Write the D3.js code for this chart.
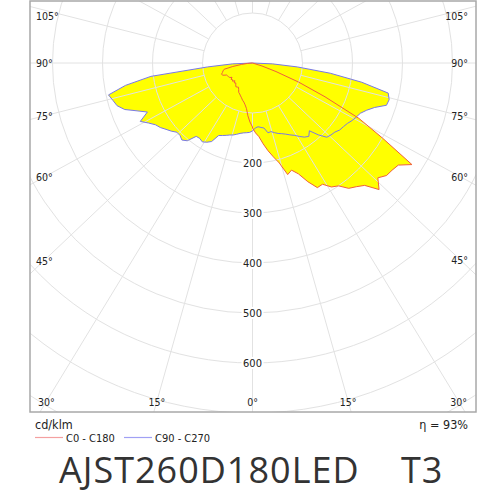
<!DOCTYPE html>
<html><head><meta charset="utf-8">
<script src="https://cdn.jsdelivr.net/npm/d3@7"></script>
<style>body{margin:0;background:#fff}svg{display:block}</style>
</head><body><svg id="c" width="500" height="500"></svg>
<script>
// gamma angles (deg from nadir)
const gammas = [0,2.5,5,7.5,10,12.5,15,17.5,20,22.5,25,27.5,30,32.5,35,37.5,40,42.5,45,47.5,50,52.5,55,57.5,60,62.5,65,67.5,70,72.5,75,77.5,80,82.5,85,87.5,90];
// intensities cd/klm
const c0   = [130,140,148,163,178,192,207,234,228,240,262,281,280,294,300,316,323,332,358,340,350,352,356,378,300,240,160,100,50,20,0,0,0,0,0,0,0];
const c180 = [128,118,106,92,85,80,77,73,70,67,65,60,56,57,58,55,52,54,50,54,52,54,50,54,55,56,57,64,66,63,61,58,40,22,10,3,0];
const c90  = [136,130,128,130,132,143,142,146,150,153,157,162,167,174,181,185,177,195,210,213,215,220,222,225,230,234,238,247,260,281,283,278,222,157,90,40,0];
const c270 = [136,139,140,141,143,146,149,151,154,157,160,177,183,187,184,185,203,209,205,205,212,218,225,230,240,253,232,250,272,284,289,295,258,205,90,40,0];
const ringValues = [100,200,300,400,500,600,700,800,900];
const ringLabels = [200,300,400,500,600];
const spokeAngles = [0,15,30,45,60,75,90,105,120,135,150,165,180];
const angleLabels = [0,15,30,45,60,75,90,105];
const legendItems = ["C0 - C180","C90 - C270"];
const unitLabel = "cd/klm";
const etaLabel = "\u03B7 = 93%";
const title = "AJST260D180LED    T3";

const svg = d3.select("#c");
const F = {l:30, r:476, t:1, b:412};
const cx = 252.5, cy = 63;
const rs = d3.scaleLinear().domain([0,100]).range([0,50]);
const k = 1.055;
const font = "'DejaVu Sans Condensed','DejaVu Sans',sans-serif";
const colRed = "#f0603c", colBlue = "#7878e6", grid = "#e2e2e2";

svg.append("defs").append("clipPath").attr("id","fr").append("rect")
  .attr("x",F.l).attr("y",F.t).attr("width",F.r-F.l).attr("height",F.b-F.t);

const g = svg.append("g").attr("clip-path","url(#fr)");
const plot = g.append("g").attr("transform",`translate(${cx},${cy})`);

function planePts(left, right){
  const pts = [];
  for (let i = gammas.length-1; i >= 0; i--) pts.push([Math.PI + gammas[i]*Math.PI/180, rs(left[i])]);
  for (let i = 0; i < gammas.length; i++) pts.push([Math.PI - gammas[i]*Math.PI/180, rs(right[i])]);
  return pts;
}
const line = d3.lineRadial().angle(d=>d[0]).radius(d=>d[1]);
const p1 = planePts(c180, c0), p2 = planePts(c270, c90);

plot.append("path").attr("d", line(p2)+"Z").attr("fill","#ffff00");
plot.append("path").attr("d", line(p1)+"Z").attr("fill","#ffff00");

// grid
plot.selectAll("circle.ring").data(ringValues).join("circle")
  .attr("r", d=>rs(d)).attr("fill","none").attr("stroke",grid).attr("stroke-width",1);
const spokes = [];
spokeAngles.forEach(a=>{ spokes.push({a, s:1}); if(a>0 && a<180) spokes.push({a, s:-1}); });
function dir(a,s){ const rad=a*Math.PI/180; const dx=s*k*Math.sin(rad), dy=Math.cos(rad); const n=Math.hypot(dx,dy); return [dx/n, dy/n]; }
plot.selectAll("line.sp").data(spokes).join("line")
  .attr("x1", d=>dir(d.a,d.s)[0]*rs(100)).attr("y1", d=>dir(d.a,d.s)[1]*rs(100))
  .attr("x2", d=>dir(d.a,d.s)[0]*rs(1000)).attr("y2", d=>dir(d.a,d.s)[1]*rs(1000))
  .attr("stroke",grid).attr("stroke-width",1);

// curves
plot.append("path").attr("d", line(p2)+"Z").attr("fill","none").attr("stroke",colBlue).attr("stroke-width",1);
plot.append("path").attr("d", line(p1)+"Z").attr("fill","none").attr("stroke",colRed).attr("stroke-width",1);

// ring labels
const rl = plot.selectAll("g.rl").data(ringLabels).join("g").attr("transform", d=>`translate(0,${rs(d)})`);
rl.append("rect").attr("x",-11).attr("y",-6).attr("width",22).attr("height",12).attr("fill","#fff");
rl.append("text").text(d=>d).attr("text-anchor","middle").attr("dominant-baseline","central")
  .attr("font-family",font).attr("font-size",11).attr("fill","#222");

// frame
svg.append("rect").attr("x",F.l).attr("y",F.t).attr("width",F.r-F.l).attr("height",F.b-F.t)
  .attr("fill","none").attr("stroke","#a8a8a8").attr("stroke-width",1.5);

// angle labels
const al = [];
angleLabels.forEach(a=>{ al.push({a,s:1}); if(a>0) al.push({a,s:-1}); });
al.forEach(d=>{
  const [dx,dy] = dir(d.a,d.s);
  const tx = Math.abs(dx)<1e-9 ? Infinity : (d.s>0 ? (F.r-cx) : (cx-F.l))/Math.abs(dx);
  const ty = dy>1e-9 ? (F.b-cy)/dy : (dy<-1e-9 ? (F.t-cy)/dy : Infinity);
  let x, y, anchor;
  if (tx < ty) {
    const xc = d.s>0 ? F.r-16 : F.l+14;
    y = cy + dy*(Math.abs(xc-cx)/Math.abs(dx));
    y = Math.max(F.t+15, y);
    x = d.s>0 ? F.r-8 : F.l+6; anchor = d.s>0 ? "end" : "start";
  } else {
    y = F.b-10.5; x = cx + dx*((y-cy)/dy); anchor = "middle";
  }
  svg.append("text").text(d.a+"\u00B0").attr("x",x).attr("y",y).attr("text-anchor",anchor)
    .attr("dominant-baseline","central").attr("font-family",font).attr("font-size",10.5).attr("fill","#222");
});

// footer
svg.append("text").text(unitLabel).attr("x",35).attr("y",429).attr("font-family",font).attr("font-size",12.5).attr("fill","#222");
svg.append("text").text(etaLabel).attr("x",468).attr("y",429).attr("text-anchor","end").attr("font-family",font).attr("font-size",12.5).attr("fill","#222");
const lg = [{x:35, c:"#f4a0a0"},{x:124, c:"#a0a0f4"}];
lg.forEach((d,i)=>{
  svg.append("line").attr("x1",d.x).attr("x2",d.x+28).attr("y1",437.5).attr("y2",437.5).attr("stroke",d.c).attr("stroke-width",1.2);
  svg.append("text").text(legendItems[i]).attr("x",d.x+31).attr("y",441.5).attr("font-family",font).attr("font-size",11).attr("fill","#222");
});
svg.append("text").text(title).attr("x",59).attr("y",483).style("white-space","pre")
  .attr("font-family","'Open Sans',sans-serif").attr("font-size",36).attr("letter-spacing",1).attr("fill","#333");
</script></body></html>
